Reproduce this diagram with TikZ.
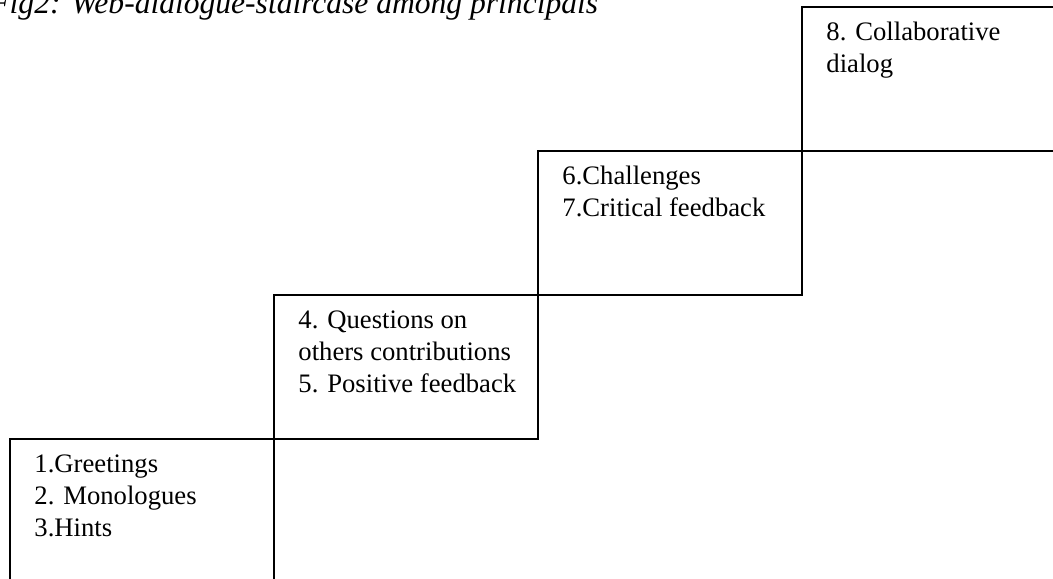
\documentclass[tikz,border=0pt]{standalone}
\usepackage{fontspec}
\setmainfont{Liberation Serif}
\usetikzlibrary{positioning}

\begin{document}
\begin{tikzpicture}[
    x=0.45pt, y=-0.45pt,
    % ── Node styles ──
    stepbox/.style  = {rectangle, draw=black, line width=0.7pt,
                       minimum width=118.8pt, minimum height=64.8pt,
                       inner sep=0pt, outer sep=0pt},
    steptext/.style = {anchor=base west, align=left, inner sep=0pt,
                       font=\fontsize{12}{14.4}\selectfont},
    caption/.style  = {anchor=base west, inner sep=0pt,
                       font=\fontsize{14.2}{17}\selectfont\itshape},
]

\useasboundingbox (0,0) rectangle (1053,579);
\clip (0,0) rectangle (1053,579);

% =====================================================================
%  CAPTION
% =====================================================================
\node[caption] (title) at (-10,13.5) {Fig2: Web-dialogue-staircase among principals};

% =====================================================================
%  STAIRCASE: each step sits on the top right corner of the one before
% =====================================================================
\node[stepbox, anchor=north west] (s1) at (10,439) {};
\node[stepbox, above right=0pt and 0pt of s1] (s2) {};
\node[stepbox, above right=0pt and 0pt of s2] (s3) {};
\node[stepbox, above right=0pt and 0pt of s3] (s4) {};

% ── step texts (base = baseline of the last line, 32 units per line)
\node[steptext] (t1) at ([shift={(24,97.5)}]s1.north west)
    {1.Greetings\\2. Monologues\\3.Hints};
\node[steptext] (t2) at ([shift={(24,97.5)}]s2.north west)
    {4. Questions on\\others contributions\\5. Positive feedback};
\node[steptext] (t3) at ([shift={(24,65.5)}]s3.north west)
    {6.Challenges\\7.Critical feedback};
\node[steptext] (t4) at ([shift={(24,65.5)}]s4.north west)
    {8. Collaborative\\dialog};

\end{tikzpicture}
\end{document}
